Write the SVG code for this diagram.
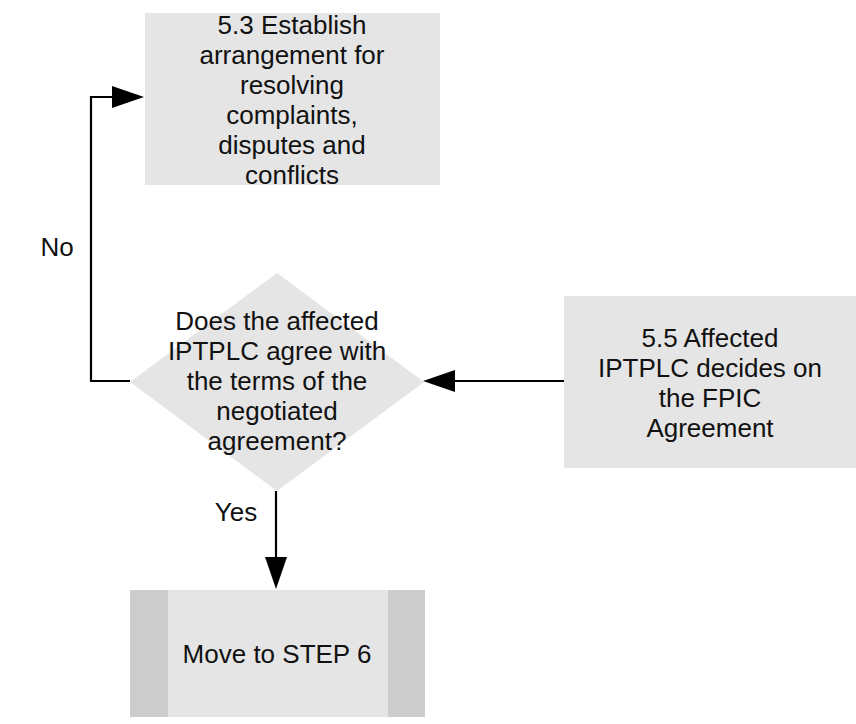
<svg xmlns="http://www.w3.org/2000/svg" width="856" height="724" viewBox="0 0 856 724">
  <style>
    .box { fill: #e5e5e5; }
    .side { fill: #cccccc; }
    .lbl { font-family: "Liberation Sans", Arial, sans-serif; font-size: 26px; fill: #111111; text-anchor: middle; }
    .edge { fill: none; stroke: #000000; stroke-width: 2.2; }
    .head { fill: #000000; }
  </style>
  <rect width="856" height="724" fill="#ffffff"/>

  <g id="step-5-3">
    <rect class="box" x="145" y="13" width="295" height="172"/>
    <text class="lbl" x="292" y="34">5.3 Establish</text>
    <text class="lbl" x="292" y="64">arrangement for</text>
    <text class="lbl" x="292" y="94">resolving</text>
    <text class="lbl" x="292" y="124">complaints,</text>
    <text class="lbl" x="292" y="154">disputes and</text>
    <text class="lbl" x="292" y="184">conflicts</text>
  </g>

  <g id="decision">
    <polygon class="box" points="277,273 424,382 277,491 130,382"/>
    <text class="lbl" x="277" y="330">Does the affected</text>
    <text class="lbl" x="277" y="360">IPTPLC agree with</text>
    <text class="lbl" x="277" y="390">the terms of the</text>
    <text class="lbl" x="277" y="420">negotiated</text>
    <text class="lbl" x="277" y="450">agreement?</text>
  </g>

  <g id="step-5-5">
    <rect class="box" x="564" y="296" width="292" height="172"/>
    <text class="lbl" x="710" y="347">5.5 Affected</text>
    <text class="lbl" x="710" y="377">IPTPLC decides on</text>
    <text class="lbl" x="710" y="407">the FPIC</text>
    <text class="lbl" x="710" y="437">Agreement</text>
  </g>

  <g id="step-6">
    <rect class="box" x="130" y="590" width="295" height="127"/>
    <rect class="side" x="130" y="590" width="38" height="127"/>
    <rect class="side" x="388" y="590" width="37" height="127"/>
    <text class="lbl" x="277" y="663">Move to STEP 6</text>
  </g>

  <g id="connectors">
    <!-- 5.5 to decision -->
    <line class="edge" x1="564" y1="381" x2="450" y2="381"/>
    <polygon class="head" points="423,381 455,370 455,392"/>
    <!-- decision "No" back to 5.3 -->
    <polyline class="edge" points="130,381 91,381 91,97 116,97"/>
    <polygon class="head" points="144,97 112,86 112,108"/>
    <!-- decision "Yes" to step 6 -->
    <line class="edge" x1="276" y1="491" x2="276" y2="560"/>
    <polygon class="head" points="276,589 265,557 287,557"/>
    <text class="lbl" x="57" y="256">No</text>
    <text class="lbl" x="236" y="521">Yes</text>
  </g>
</svg>
